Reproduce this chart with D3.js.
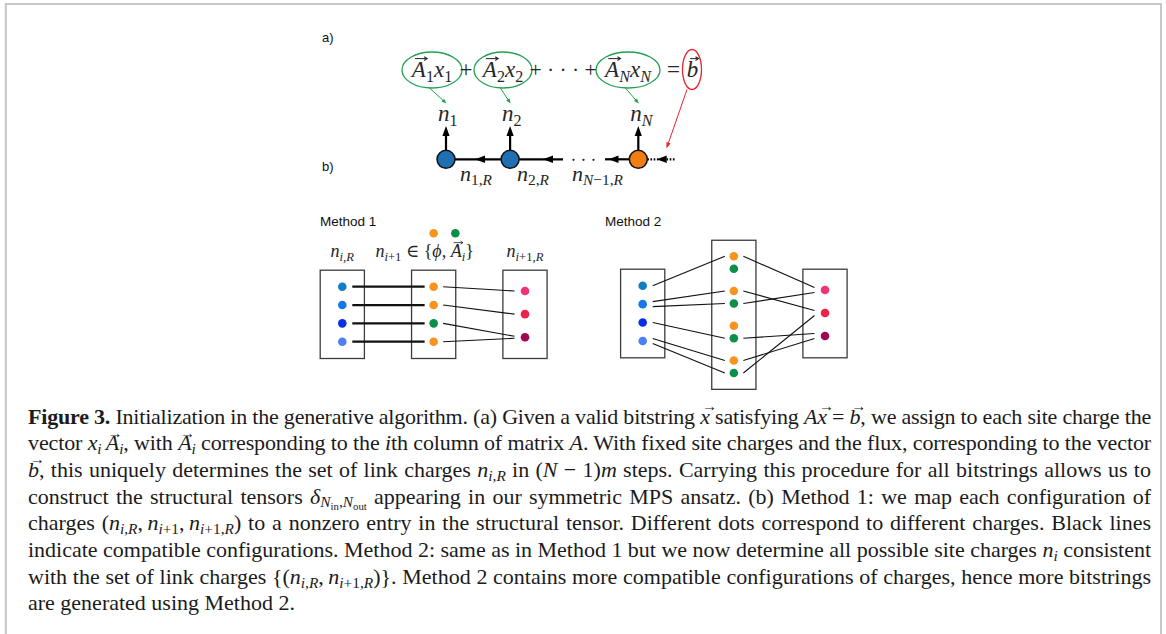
<!DOCTYPE html>
<html>
<head>
<meta charset="utf-8">
<script src="https://cdn.jsdelivr.net/npm/d3@7"></script>
<style>
  html, body { margin: 0; padding: 0; background: #fff; overflow: hidden; }
  #fig { position: relative; width: 1166px; height: 634px; overflow: hidden; }
  #fig svg { position: absolute; left: 0; top: 0; }
  .cap { position: absolute; left: 28px; top: 403.5px; width: 1123px;
         font-family: 'Liberation Serif', 'Times New Roman', serif; font-size: 22px; color: #1b1b1b; }
  .cap .ln { position: absolute; left: 0; height: 26.7px; line-height: 26.7px; white-space: nowrap; }
  .cap sub { font-size: 0.7em; vertical-align: -0.25em; line-height: 0; }
  .cap .vec { position: relative; font-style: italic; }
  .cap .vec::after { content: "\2192"; position: absolute; left: 0.12em; top: -0.3em;
                     font-size: 0.68em; font-style: normal; line-height: 1; }
</style>
</head>
<body>
<div id="fig"></div>
<script>
// ---------- content ----------
// chain sites and the link charges between them
const sites = ["1", "2", "N"];
const siteFill = ["#1f6fb2", "#1f6fb2", "#f07e12"];
const linkLabels = ["1,R", "2,R", "N−1,R"];

// charge colours
const leftCharges = ["#0f7ec4", "#1478e6", "#0b2fe5", "#4c7ef6"];
const rightCharges = ["#f03277", "#f0204b", "#a20650"];
const siteCharge = { phi: "#f7931e", A: "#0c8f48" };

// Method 1: one site charge per incoming link charge
const m1Mid = ["phi", "phi", "A", "phi"];
const m1LeftLinks = [[0, 0], [1, 1], [2, 2], [3, 3]];
const m1RightLinks = [[0, 0], [1, 1], [2, 2], [3, 2]];

// Method 2: both site charges for every link charge
const m2Mid = ["phi", "A", "phi", "A", "phi", "A", "phi", "A"];
const m2LeftLinks = [[0, 0], [1, 2], [1, 3], [2, 5], [3, 6], [3, 7]];
const m2RightLinks = [[0, 0], [2, 1], [3, 0], [5, 2], [6, 2], [7, 1]];

// caption
const sb = s => "<sub>" + s.replace(/([A-Za-z]+)/g, "<i>$1</i>") + "</sub>";
const vec = c => `<span class="vec">${c}</span>`;
const captionLines = [
  `<b>Figure 3.</b> Initialization in the generative algorithm. (a) Given a valid bitstring ${vec("x")} satisfying <i>A</i>${vec("x")} = ${vec("b")}, we assign to each site charge the`,
  `vector <i>x</i>${sb("i")}&thinsp;${vec("A")}${sb("i")}, with ${vec("A")}${sb("i")} corresponding to the <i>i</i>th column of matrix <i>A</i>. With fixed site charges and the flux, corresponding to the vector`,
  `${vec("b")}, this uniquely determines the set of link charges <i>n</i>${sb("i,R")} in (<i>N</i> − 1)<i>m</i> steps. Carrying this procedure for all bitstrings allows us to`,
  `construct the structural tensors <i>δ</i><sub><i>N</i><sub>in</sub>,<i>N</i><sub>out</sub></sub> appearing in our symmetric MPS ansatz. (b) Method 1: we map each configuration of`,
  `charges (<i>n</i>${sb("i,R")},&thinsp;<i>n</i>${sb("i+1")},&thinsp;<i>n</i>${sb("i+1,R")}) to a nonzero entry in the structural tensor. Different dots correspond to different charges. Black lines`,
  `indicate compatible configurations. Method 2: same as in Method 1 but we now determine all possible site charges <i>n</i>${sb("i")} consistent`,
  `with the set of link charges {(<i>n</i>${sb("i,R")},&thinsp;<i>n</i>${sb("i+1,R")})}. Method 2 contains more compatible configurations of charges, hence more bitstrings`,
  `are generated using Method 2.`
];

// ---------- drawing ----------
const W = 1166, H = 634;
const INK = "#262626";
const MATH = "'Liberation Serif','DejaVu Serif',serif";
const SANS = "'Liberation Sans',Arial,sans-serif";

const fig = d3.select("#fig");
const svg = fig.append("svg").attr("width", W).attr("height", H);

// math segments
const I = t => ({ t, it: true, lvl: 0 });
const R = t => ({ t, it: false, lvl: 0 });
const V = t => ({ t, it: true, lvl: 0, vec: true });
const subs = (str, lvl = 1) => str.match(/[A-Za-z]+|[^A-Za-z]+/g)
  .map(p => ({ t: p, it: /[A-Za-z]/.test(p), lvl }));

function mathText(g, x, y, segs, size, anchor = "start") {
  const t = g.append("text").attr("x", x).attr("y", y)
    .attr("font-family", MATH).attr("font-size", size)
    .attr("fill", INK).attr("text-anchor", anchor)
    .attr("xml:space", "preserve").style("white-space", "pre");
  let shift = 0;
  const vecSpans = [];
  segs.forEach(s => {
    const target = [0, 0.2, 0.32][s.lvl] * size;
    const ts = t.append("tspan").text(s.t)
      .attr("font-size", size * [1, 0.7, 0.5][s.lvl])
      .attr("font-style", s.it ? "italic" : "normal")
      .attr("dy", (target - shift).toFixed(2));
    shift = target;
    if (s.vec) vecSpans.push(ts);
  });
  vecSpans.forEach(ts => {
    const b = ts.node().getBBox();
    const x0 = b.x + b.width * 0.3, x1 = b.x + b.width * 1.02, ay = y - size * 0.8;
    const sw = size * 0.045, hl = size * 0.13, hw = size * 0.08;
    g.append("path").attr("d", `M${x0},${ay}H${x1}`).attr("stroke", INK).attr("stroke-width", sw);
    g.append("path").attr("d", `M${x1 - hl},${ay - hw}L${x1},${ay}L${x1 - hl},${ay + hw}`)
      .attr("fill", "none").attr("stroke", INK).attr("stroke-width", sw);
  });
  return t;
}

function head(g, x, y, ang, len, half, color) {
  const c = Math.cos(ang), s = Math.sin(ang);
  const bx = x - c * len, by = y - s * len;
  g.append("path")
    .attr("d", `M${x},${y}L${bx - s * half},${by + c * half}L${bx + s * half},${by - c * half}Z`)
    .attr("fill", color);
}

function arrowLine(g, x0, y0, x1, y1, color, width, len, half) {
  const ang = Math.atan2(y1 - y0, x1 - x0);
  g.append("line").attr("x1", x0).attr("y1", y0)
    .attr("x2", x1 - Math.cos(ang) * len * 0.6).attr("y2", y1 - Math.sin(ang) * len * 0.6)
    .attr("stroke", color).attr("stroke-width", width);
  head(g, x1, y1, ang, len, half, color);
}

// outer frame
svg.append("path").attr("d", "M5.8,640V4H1161V640")
  .attr("fill", "none").attr("stroke", "#c6c6c6").attr("stroke-width", 2);

// panel letters
svg.append("text").attr("x", 322).attr("y", 42).attr("font-family", SANS)
  .attr("font-size", 13).attr("fill", "#111").text("a)");
svg.append("text").attr("x", 322).attr("y", 171).attr("font-family", SANS)
  .attr("font-size", 13).attr("fill", "#111").text("b)");

// ---- (a) equation ----
const GREEN = "#22a052", RED = "#e8262b";
const pa = svg.append("g");
const eqY = 77, eqCY = 70, eqRY = 18;
const eqX = [432, 503, 628];
const eqRx = [30, 29, 32];
sites.forEach((s, k) => {
  mathText(pa, eqX[k], eqY, [V("A"), ...subs(s), I("x"), ...subs(s)], 23, "middle");
  pa.append("ellipse").attr("cx", eqX[k]).attr("cy", eqCY).attr("rx", eqRx[k]).attr("ry", eqRY)
    .attr("fill", "none").attr("stroke", GREEN).attr("stroke-width", 1.3);
});
mathText(pa, 466, eqY, [R("+")], 23, "middle");
mathText(pa, 563, eqY, [R("+ · · · +")], 21.5, "middle");
mathText(pa, 673.5, eqY, [R("=")], 23, "middle");
mathText(pa, 692.5, eqY, [V("b")], 23, "middle");
pa.append("ellipse").attr("cx", 692).attr("cy", 69.5).attr("rx", 9.5).attr("ry", 20)
  .attr("fill", "none").attr("stroke", RED).attr("stroke-width", 1.3);

// ---- (b) chain ----
const chainY = 159.3, nodeR = 9;
const nodeX = d3.scalePoint().domain(["1", "2", "gap", "N"]).range([446, 638.3]);
const xs = sites.map(s => nodeX(s));
const pc = svg.append("g");

// green arrows from each term to its site charge, and red arrow for the flux
sites.forEach((s, k) => {
  arrowLine(pc, eqX[k] - 3, eqCY + eqRY - 0.5, xs[k] + 0.5, 103.5, GREEN, 1, 5, 2);
  mathText(pc, xs[k] - 8, 121, [I("n"), ...subs(s)], 23);
});
arrowLine(pc, 687, 89.5, 666.5, 148.5, RED, 1, 6, 2.2);

// physical legs
xs.forEach(x => arrowLine(pc, x, chainY - nodeR, x, 126, "#000", 2.2, 10, 3.6));

// virtual bonds
const bond = (x0, x1, tip, dashed) => {
  pc.append("line").attr("x1", x0).attr("y1", chainY).attr("x2", x1).attr("y2", chainY)
    .attr("stroke", "#000").attr("stroke-width", 2.2)
    .attr("stroke-dasharray", dashed ? "1.6,1.6" : null);
  head(pc, tip, chainY, Math.PI, 10, 3.7, "#000");
};
bond(xs[0] + nodeR, xs[1] - nodeR, (xs[0] + xs[1]) / 2 - 3, false);
bond(xs[1] + nodeR, 563, 543, false);
bond(605, xs[2] - nodeR, 608.5, false);
bond(xs[2] + nodeR, 676, 656.7, true);
[0, 1, 2].forEach(d => pc.append("circle").attr("cx", 573.5 + d * 10).attr("cy", chainY + 0.5)
  .attr("r", 1.15).attr("fill", INK));

pc.selectAll("circle.site").data(sites).join("circle").attr("class", "site")
  .attr("cx", (d, k) => xs[k]).attr("cy", chainY).attr("r", nodeR)
  .attr("fill", (d, k) => siteFill[k]).attr("stroke", "#111").attr("stroke-width", 1.5);

const linkLabelX = [460, 517, 572];
linkLabels.forEach((l, k) => mathText(pc, linkLabelX[k], 180.5, [I("n"), ...subs(l)], 22));

// ---- (b) charge diagrams ----
function fanOffsets(links, side, otherY, spread) {
  const off = new Array(links.length).fill(0);
  d3.groups(links.map((l, i) => ({ l, i })), d => d.l[side]).forEach(([, grp]) => {
    grp.sort((a, b) => otherY(a.l[1 - side]) - otherY(b.l[1 - side]));
    grp.forEach((d, r) => off[d.i] = (r - (grp.length - 1) / 2) * spread);
  });
  return off;
}

function diagram(cfg) {
  const g = svg.append("g");
  const col = d3.scalePoint().domain(["L", "M", "R"]).range(cfg.xRange);
  const lx = col("L"), mx = col("M"), rx = col("R");
  const boxW = 44.2, pad = 16.5;
  const leftTop = cfg.leftY(0) - pad, leftBot = cfg.leftY(leftCharges.length - 1) + pad + 0.3;
  const midTop = Math.min(leftTop, cfg.midY(0) - 16), midBot = Math.max(leftBot, cfg.midY(cfg.mid.length - 1) + 16.3);
  [[lx, leftTop, leftBot], [mx, midTop, midBot], [rx, leftTop, leftBot]].forEach(([cx, t, b]) =>
    g.append("rect").attr("x", cx - boxW / 2).attr("y", t).attr("width", boxW).attr("height", b - t)
      .attr("fill", "none").attr("stroke", "#3c3c3c").attr("stroke-width", 1.3));

  // left -> middle
  const offL0 = fanOffsets(cfg.leftLinks, 0, cfg.midY, cfg.spread);
  const offL1 = fanOffsets(cfg.leftLinks, 1, cfg.leftY, cfg.spread);
  g.selectAll("line.ll").data(cfg.leftLinks).join("line").attr("class", "ll")
    .attr("x1", lx + 10).attr("y1", (d, i) => cfg.leftY(d[0]) + offL0[i])
    .attr("x2", mx - 9).attr("y2", (d, i) => cfg.midY(d[1]) + offL1[i])
    .attr("stroke", "#111").attr("stroke-width", cfg.leftWidth);
  // middle -> right
  const offR0 = fanOffsets(cfg.rightLinks, 0, cfg.rightY, cfg.spread);
  const offR1 = fanOffsets(cfg.rightLinks, 1, cfg.midY, cfg.spread);
  g.selectAll("line.rl").data(cfg.rightLinks).join("line").attr("class", "rl")
    .attr("x1", mx + 9.5).attr("y1", (d, i) => cfg.midY(d[0]) + offR0[i])
    .attr("x2", rx - 10.5).attr("y2", (d, i) => cfg.rightY(d[1]) + offR1[i])
    .attr("stroke", "#111").attr("stroke-width", 1.1);

  const dot = (data, x, y, fill) => g.append("g").selectAll("circle").data(data).join("circle")
    .attr("cx", x).attr("cy", (d, i) => y(i)).attr("r", 4.3).attr("fill", fill);
  dot(leftCharges, lx, cfg.leftY, d => d);
  dot(cfg.mid, mx, cfg.midY, d => siteCharge[d]);
  dot(rightCharges, rx, cfg.rightY, d => d);

  g.append("text").attr("x", cfg.titleX).attr("y", 226).attr("font-family", SANS)
    .attr("font-size", 13.5).attr("fill", "#111").text(cfg.title);
  return { g, lx, mx, rx };
}

const m1 = diagram({
  title: "Method 1", titleX: 320,
  xRange: [342.3, 525],
  mid: m1Mid, leftLinks: m1LeftLinks, rightLinks: m1RightLinks,
  leftY: d3.scalePoint().domain(d3.range(4)).range([286.7, 341.7]),
  midY: d3.scalePoint().domain(d3.range(4)).range([286.7, 341.7]),
  rightY: d3.scalePoint().domain(d3.range(3)).range([291, 337.3]),
  spread: 2, leftWidth: 2.2
});
const pairY = d3.scalePoint().domain(d3.range(4)).range([262.5, 366.8]);
const m2 = diagram({
  title: "Method 2", titleX: 605,
  xRange: [642.7, 825],
  mid: m2Mid, leftLinks: m2LeftLinks, rightLinks: m2RightLinks,
  leftY: d3.scalePoint().domain(d3.range(4)).range([285.7, 341]),
  midY: i => pairY(Math.floor(i / 2)) + ((i % 2) - 0.5) * 12.5,
  rightY: d3.scalePoint().domain(d3.range(3)).range([290, 336]),
  spread: 5, leftWidth: 1.1
});

// Method 1 column headers and the site-charge key
const hy = 257, hs = 18;
mathText(m1.g, m1.lx, hy, [I("n"), ...subs("i,R")], hs, "middle");
mathText(m1.g, m1.mx - 9, hy, [I("n"), ...subs("i+1"), R(" ∈ {"), I("ϕ"), R(", "), V("A"), ...subs("i"), R("}")], hs, "middle");
mathText(m1.g, m1.rx, hy, [I("n"), ...subs("i+1,R")], hs, "middle");
["phi", "A"].forEach((c, k) => m1.g.append("circle").attr("cx", m1.mx + k * 21.7).attr("cy", 233.3)
  .attr("r", 4.3).attr("fill", siteCharge[c]));

// ---- caption (justified line by line) ----
const cap = fig.append("div").attr("class", "cap");
const LH = 26.7, CW = 1123;
captionLines.forEach((html, k) => {
  const div = cap.append("div").attr("class", "ln").style("top", (k * LH) + "px");
  const span = div.append("span").html(html);
  if (k < captionLines.length - 1) {
    const natural = span.node().getBoundingClientRect().width;
    const txt = span.node().textContent;
    const extra = CW - natural;
    if (extra >= 0) {
      const gaps = (txt.match(/ /g) || []).length;
      span.style("word-spacing", (extra / gaps).toFixed(3) + "px");
    } else {
      // too long: tighten glyph spacing slightly instead of squeezing the word gaps
      span.style("letter-spacing", (extra / txt.length).toFixed(3) + "px");
    }
  }
});
</script>
</body>
</html>
